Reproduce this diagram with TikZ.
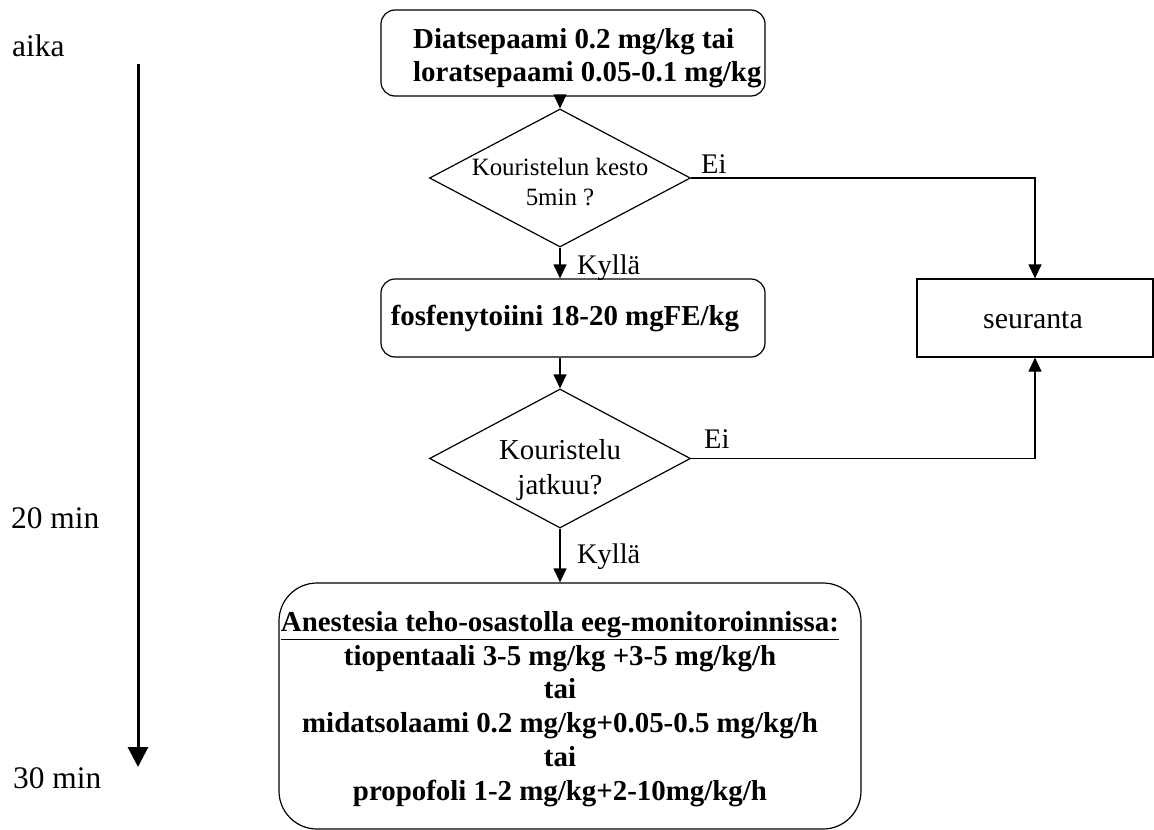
\documentclass[tikz,border=0pt]{standalone}
\usepackage{fontspec}
\setmainfont{Liberation Serif}
\usetikzlibrary{shapes.geometric,arrows.meta}
\begin{document}
\begin{tikzpicture}[x=1bp,y=-1bp,
  box/.style={draw,line width=1.2bp,rounded corners=14bp,inner sep=0pt},
  bigbox/.style={draw,line width=1.2bp,rounded corners=38bp,inner sep=0pt},
  plainbox/.style={draw,line width=1.2bp,inner sep=0pt},
  dec/.style={draw,diamond,line width=1.2bp,inner sep=0pt},
  conn/.style={line width=1.2bp,-{Triangle[length=14bp,width=13bp]}},
  timeline/.style={line width=3bp,-{Triangle[length=20bp,width=20bp]}},
  txt/.style={inner sep=0pt,align=center},
  boldtxt/.style={inner sep=0pt,font=\bfseries\fontsize{29}{33}\selectfont},
  lab/.style={inner sep=0pt,anchor=base west,font=\fontsize{28.5}{32}\selectfont},
  timelab/.style={inner sep=0pt,anchor=base west,font=\fontsize{31.5}{36}\selectfont}]
\useasboundingbox (0,0) rectangle (1154,830);

% time axis
\node[timelab] (aika) at (12,56) {aika};
\node[timelab] (m20) at (11,528) {20 min};
\node[timelab] (m30) at (13,788) {30 min};
\coordinate (tA) at (138,64);
\coordinate (tB) at (138,767);
\draw[timeline] (tA) -- (tB);

% box 1
\node[box,minimum width=384bp,minimum height=86bp] (b1) at (573,53) {};
\node[boldtxt,anchor=west,align=left] (b1t) at (413,58) {Diatsepaami 0.2 mg/kg tai\\loratsepaami 0.05-0.1 mg/kg};

% decision 1
\node[dec,minimum width=261bp,minimum height=138bp] (d1) at (560,178) {};
\node[txt,font=\fontsize{25}{30}\selectfont] (d1t) at (560,182) {Kouristelun kesto\\5min ?};

% box 2
\node[box,minimum width=384bp,minimum height=78bp] (b2) at (573,318) {};
\node[boldtxt] (b2t) at (565,318.5) {fosfenytoiini 18-20 mgFE/kg};

% decision 2
\node[dec,minimum width=261bp,minimum height=139bp] (d2) at (560,458.5) {};
\node[txt,font=\fontsize{29}{36}\selectfont] (d2t) at (560,470) {Kouristelu\\jatkuu?};

% box 3
\node[bigbox,minimum width=582bp,minimum height=246bp] (b3) at (570,706) {};
\node[txt,font=\bfseries\fontsize{29}{34}\selectfont] (b3t) at (560,709) {\underline{Anestesia teho-osastolla eeg-monitoroinnissa:}\\tiopentaali 3-5 mg/kg +3-5 mg/kg/h\\tai\\midatsolaami 0.2 mg/kg+0.05-0.5 mg/kg/h\\tai\\propofoli 1-2 mg/kg+2-10mg/kg/h};

% seuranta
\node[plainbox,minimum width=236bp,minimum height=78bp] (s) at (1035,318) {};
\node[inner sep=0pt,anchor=base,font=\fontsize{30}{34}\selectfont] (st) at (1033,328) {seuranta};

% connectors
\draw[conn] (d1.north |- b1.south) -- (d1.north);
\draw[conn] (d1.south) -- (d1.south |- b2.north);
\draw[conn] (d2.north |- b2.south) -- (d2.north);
\draw[conn] (d2.south) -- (d2.south |- b3.north);
\draw[conn] (d1.east) -| (s.north);
\draw[conn] (d2.east) -| (s.south);

% labels
\node[lab] (ei1) at (701,173) {Ei};
\node[lab] (ei2) at (704,448) {Ei};
\node[lab] (k1) at (577,274) {Kyllä};
\node[lab] (k2) at (577,563) {Kyllä};
\end{tikzpicture}
\end{document}
